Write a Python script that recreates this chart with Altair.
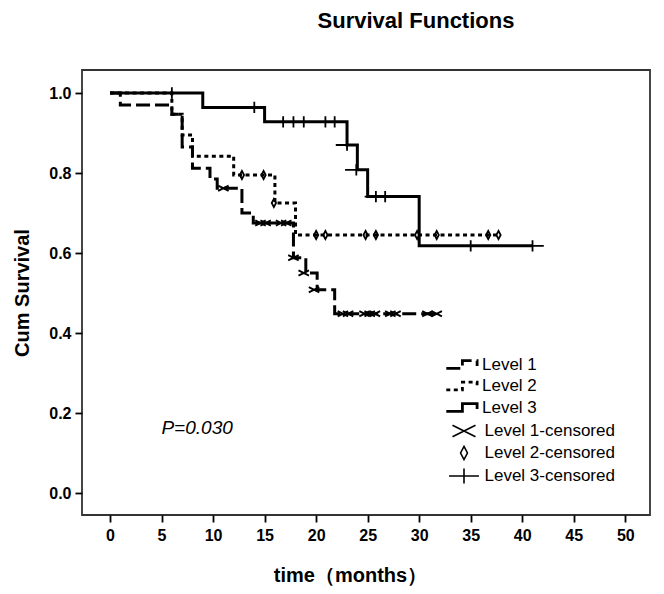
import altair as alt
import pandas as pd

# ---------------- data ----------------
levels = ["Level 1", "Level 2", "Level 3"]
cens_names = ["Level 1-censored", "Level 2-censored", "Level 3-censored"]

# step curves (time, cumulative survival)
l1_time = [0, 1, 6, 7, 8, 9.7, 10.4, 12.8, 13.9, 17.8, 19.0, 20.1, 21.8, 31.7]
l1_surv = [1.0, 0.97, 0.947, 0.865, 0.812, 0.785, 0.762, 0.70, 0.675, 0.588, 0.55, 0.508, 0.448, 0.448]

l2_time = [0, 6, 7, 8, 12, 16, 18, 37.7]
l2_surv = [1.0, 0.947, 0.895, 0.842, 0.795, 0.725, 0.645, 0.645]

l3_time = [0, 9, 15, 23, 24, 25, 30, 41]
l3_surv = [1.0, 0.964, 0.928, 0.87, 0.808, 0.741, 0.618, 0.618]

# censored observations
l1_cens_time = [11.0, 14.6, 15.1, 16.6, 17.1, 17.8, 18.8, 19.8, 22.6, 23.1, 24.7, 25.2, 25.7, 27.2, 27.7, 30.8, 31.7]
l1_cens_surv = [0.762, 0.675, 0.675, 0.675, 0.675, 0.588, 0.55, 0.508, 0.448, 0.448, 0.448, 0.448, 0.448, 0.448, 0.448, 0.448, 0.448]

l2_cens_time = [12.8, 14.9, 15.9, 20.0, 20.9, 24.8, 25.8, 29.8, 31.7, 36.7, 37.7]
l2_cens_surv = [0.795, 0.795, 0.725, 0.645, 0.645, 0.645, 0.645, 0.645, 0.645, 0.645, 0.645]

l3_cens_time = [6, 14, 16.8, 17.8, 18.8, 20.9, 21.8, 23.0, 23.9, 25.8, 26.7, 35, 41]
l3_cens_surv = [1.0, 0.964, 0.928, 0.928, 0.928, 0.928, 0.928, 0.87, 0.808, 0.741, 0.741, 0.618, 0.618]

x_ticks = [0, 5, 10, 15, 20, 25, 30, 35, 40, 45, 50]
y_ticks = [0.0, 0.2, 0.4, 0.6, 0.8, 1.0]

p_label = "P=0.030"
p_pos = (8.45, 0.162)

# ---------------- tables ----------------
line_rows = []
for name, ts, ss in zip(levels, [l1_time, l2_time, l3_time], [l1_surv, l2_surv, l3_surv]):
    for t, s in zip(ts, ss):
        line_rows.append({"time": t, "surv": s, "level": name})
line_df = pd.DataFrame(line_rows)

cens_rows = []
for name, ts, ss in zip(cens_names, [l1_cens_time, l2_cens_time, l3_cens_time],
                        [l1_cens_surv, l2_cens_surv, l3_cens_surv]):
    for t, s in zip(ts, ss):
        cens_rows.append({"time": t, "surv": s, "cens": name})
cens_df = pd.DataFrame(cens_rows)

p_df = pd.DataFrame({"time": [p_pos[0]], "surv": [p_pos[1]], "label": [p_label]})

FONT = "Liberation Sans"

x_scale = alt.Scale(domain=[-2.72, 52.4], nice=False, zero=False)
y_scale = alt.Scale(domain=[-0.055, 1.0575], nice=False, zero=False)

x_axis = alt.Axis(values=x_ticks, format="d", grid=False, domain=False,
                  tickSize=7, tickWidth=1.8, tickColor="black",
                  labelFont=FONT, labelFontSize=16, labelFontWeight="bold", labelColor="black",
                  labelPadding=5, titleFont=FONT, titleFontSize=20, titleFontWeight="bold",
                  titleColor="black", titlePadding=22, titleX=268, titleAlign="center")
y_axis = alt.Axis(values=y_ticks, format=".1f", grid=False, domain=False,
                  tickSize=7, tickWidth=1.8, tickColor="black",
                  labelFont=FONT, labelFontSize=16, labelFontWeight="bold", labelColor="black",
                  labelPadding=4, titleFont=FONT, titleFontSize=20, titleFontWeight="bold",
                  titleColor="black", titlePadding=16)

step_path = "M-3.6,0.55H-1.3V-0.55H0.8V0.2"
x_path = "M-1,-0.5L1,0.5M-1,0.5L1,-0.5"
diamond_path = "M0,-0.57L0.3,0L0,0.57L-0.3,0Z"
plus_path = "M-1.3,0H1.3M0,-0.65V0.65"

lines = alt.Chart(line_df).mark_line(interpolate="step-after", color="black", strokeWidth=3).encode(
    x=alt.X("time:Q", scale=x_scale, axis=x_axis, title="time（months）"),
    y=alt.Y("surv:Q", scale=y_scale, axis=y_axis, title="Cum Survival"),
    strokeDash=alt.StrokeDash(
        "level:N",
        scale=alt.Scale(domain=levels, range=[[14, 5], [4, 3.5], [1, 0]]),
        legend=alt.Legend(title=None, orient="none", legendX=381, legendY=286,
                          symbolType=step_path, symbolSize=196, symbolStrokeWidth=2.8,
                          symbolStrokeColor="black", labelFont=FONT, labelFontSize=17,
                          labelColor="black", labelOffset=2, rowPadding=2.5, padding=0),
    ),
)

points = alt.Chart(cens_df).mark_point(filled=False, color="black", strokeWidth=1.8, opacity=1).encode(
    x=alt.X("time:Q", scale=x_scale),
    y=alt.Y("surv:Q", scale=y_scale),
    shape=alt.Shape(
        "cens:N",
        scale=alt.Scale(domain=cens_names, range=[x_path, diamond_path, plus_path]),
        legend=alt.Legend(title=None, orient="none", legendX=369.5, legendY=348.5,
                          symbolSize=529, symbolStrokeWidth=1.6, symbolStrokeColor="black",
                          symbolFillColor="transparent",
                          labelFont=FONT, labelFontSize=17, labelColor="black",
                          labelOffset=8, rowPadding=0, padding=0),
    ),
    size=alt.Size("cens:N", scale=alt.Scale(domain=cens_names, range=[110, 300, 225]), legend=None),
)

ptext = alt.Chart(p_df).mark_text(font=FONT, fontSize=19, fontStyle="italic", color="black",
                                  align="center", baseline="middle").encode(
    x=alt.X("time:Q", scale=x_scale),
    y=alt.Y("surv:Q", scale=y_scale),
    text="label:N",
)

chart = alt.layer(lines, points, ptext).resolve_legend(
    strokeDash="independent", shape="independent"
).properties(
    width=568,
    height=445,
    autosize=alt.AutoSizeParams(type="none"),
    padding={"left": 74, "top": 62, "right": 6, "bottom": 71},
    title=alt.Title("Survival Functions", font=FONT, fontSize=22, fontWeight="bold",
                    color="black", anchor="middle", dx=50, offset=37),
).configure_view(stroke="#333333", strokeWidth=1.8)

chart.save("out.html", embed_options={"renderer": "svg", "actions": False})
